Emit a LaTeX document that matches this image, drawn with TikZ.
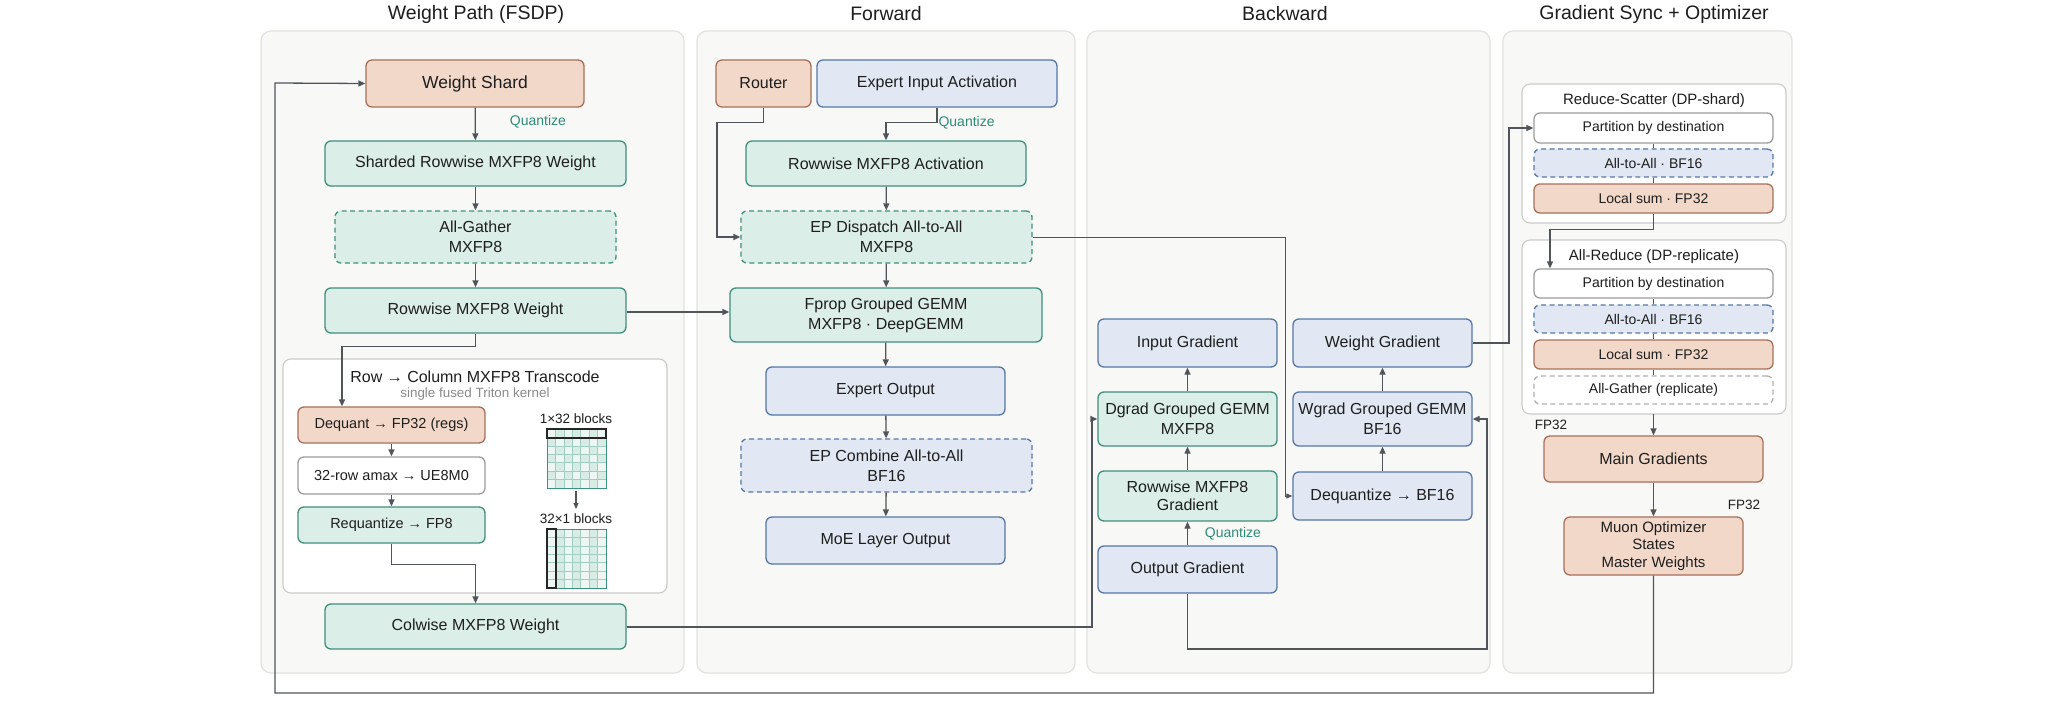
\documentclass[tikz,border=0pt]{standalone}
\usepackage{fontspec}
\setmainfont{Liberation Sans}
\usetikzlibrary{arrows.meta}
\definecolor{panelF}{HTML}{F8F8F6}
\definecolor{panelD}{HTML}{E2E2DE}
\definecolor{salF}{HTML}{F2D8C9}
\definecolor{salD}{HTML}{A6705A}
\definecolor{tealF}{HTML}{DBEEE8}
\definecolor{tealD}{HTML}{3F8F7D}
\definecolor{bluF}{HTML}{E1E8F3}
\definecolor{bluD}{HTML}{5677A8}
\definecolor{grayD}{HTML}{9C9C9C}
\definecolor{lineC}{HTML}{50555B}
\definecolor{quantC}{HTML}{2E8B78}
\definecolor{subC}{HTML}{8A8A8A}
\definecolor{gridA}{HTML}{D6ECE5}
\definecolor{gridB}{HTML}{EDF6F3}
\definecolor{gridL}{HTML}{9FCDC1}
\definecolor{txtC}{HTML}{1E1E1E}
\newcommand\mybox[7]{\node[#1, minimum width={#5pt-#3pt}, minimum height={#6pt-#4pt}] (#2) at ({(#3+#5)/2},{(#4+#6)/2}) {#7};}
\begin{document}
\begin{tikzpicture}[x=1pt,y=-1pt,
  every node/.style={text=txtC},
  panel/.style={fill=panelF, draw=panelD, line width=1.3pt, rounded corners=10pt},
  subpanel/.style={fill=white, draw=panelD!90!black, line width=1.1pt, rounded corners=8pt},
  box/.style={draw, rounded corners=6pt, line width=1.3pt, inner sep=0pt, align=center, font=\fontsize{16}{20}\selectfont},
  salbox/.style={box, fill=salF, draw=salD},
  tealbox/.style={box, fill=tealF, draw=tealD},
  blubox/.style={box, fill=bluF, draw=bluD},
  whitebox/.style={box, fill=white, draw=grayD},
  dashbox/.style={dash pattern=on 5pt off 3.5pt},
  small/.style={font=\fontsize{14.5}{17}\selectfont},
  tiny/.style={font=\fontsize{14}{17}\selectfont},
  title/.style={font=\fontsize{19.5}{23}\selectfont},
  conn/.style={draw=lineC, line width=1.3pt},
  arr/.style={conn, -{Triangle[length=7pt,width=6pt]}},
  qlabel/.style={font=\fontsize{14}{17}\selectfont, text=quantC},
  note/.style={font=\fontsize{13.5}{16}\selectfont}
]
\useasboundingbox (0,0) rectangle (2048,706);
\fill[white] (0,0) rectangle (2048,706);

% panels
\draw[panel] (261,31) rectangle (684,673);
\draw[panel] (697,31) rectangle (1075,673);
\draw[panel] (1087,31) rectangle (1490,673);
\draw[panel] (1503,31) rectangle (1792,673);
\node[title] (t1) at (476,14) {Weight Path (FSDP)};
\node[title] (t2) at (886,14) {Forward};
\node[title] (t3) at (1285,14) {Backward};
\node[title] (t4) at (1654,14) {Gradient Sync + Optimizer};

% ---------- Weight path ----------
\mybox{salbox, font=\fontsize{17.5}{21}\selectfont}{ws}{366}{60}{584}{107}{Weight Shard}
\mybox{tealbox}{srw}{325}{141}{626}{186}{Sharded Rowwise MXFP8 Weight}
\mybox{tealbox, dashbox}{ag}{335}{211}{616}{263}{All-Gather\\MXFP8}
\mybox{tealbox}{rw}{325}{288}{626}{333}{Rowwise MXFP8 Weight}
\draw[subpanel] (283,359) rectangle (667,593);
\node[font=\fontsize{16}{19}\selectfont] (tct) at (475,377) {Row → Column MXFP8 Transcode};
\node[font=\fontsize{13.4}{16}\selectfont, text=subC] (tcs) at (475,394) {single fused Triton kernel};
\mybox{salbox, small}{dq}{298}{407}{485}{443}{Dequant → FP32 (regs)}
\mybox{whitebox, small}{amax}{298}{457}{485}{494}{32-row amax → UE8M0}
\mybox{tealbox, small}{rq}{298}{507}{485}{543}{Requantize → FP8}
\mybox{tealbox}{cw}{325}{604}{626}{649}{Colwise MXFP8 Weight}

% grids
\node[note] (g1l) at (576,419) {1×32 blocks};
\node[note] (g2l) at (576,519) {32×1 blocks};
\foreach \i in {0,...,6} \foreach \j in {0,...,6} {
  \pgfmathsetmacro\cc{mod(\i+\j,2)==0 ? 1 : 0}
  \ifdim\cc pt>0.5pt \def\gc{gridB}\else\def\gc{gridA}\fi
  \fill[\gc] ({547+\i*59/7},{429+\j*59/7}) rectangle ++(59/7,59/7);
  \pgfmathsetmacro\cd{mod(\i,2)==0 ? 1 : 0}
  \ifdim\cd pt>0.5pt \def\gd{gridB}\else\def\gd{gridA}\fi
  \fill[\gd] ({547+\i*59/7},{529+\j*59/7}) rectangle ++(59/7,59/7);
}
\foreach \k in {1,...,6} {
  \draw[gridL, line width=0.5pt] ({547+\k*59/7},429) -- ++(0,59);
  \draw[gridL, line width=0.5pt] (547,{429+\k*59/7}) -- ++(59,0);
  \draw[gridL, line width=0.5pt] ({547+\k*59/7},529) -- ++(0,59);
  \draw[gridL, line width=0.5pt] (547,{529+\k*59/7}) -- ++(59,0);
}
\draw[tealD, line width=1pt] (547,429) rectangle (606,488);
\draw[tealD, line width=1pt] (547,529) rectangle (606,588);
\draw[black!85, line width=1.8pt] (547,429) rectangle (606,438);
\draw[black!85, line width=1.8pt] (547,529) rectangle (556,588);
\coordinate (ga) at (576,491);
\coordinate (gb) at (576,509);
\draw[conn, line width=1.1pt, -{Triangle[length=6pt,width=5pt]}] (ga) -- (gb);

% ---------- Forward ----------
\mybox{salbox}{router}{716}{60}{811}{107}{Router}
\mybox{blubox}{eia}{817}{60}{1057}{107}{Expert Input Activation}
\mybox{tealbox}{rwa}{746}{141}{1026}{186}{Rowwise MXFP8 Activation}
\mybox{tealbox, dashbox}{epd}{741}{211}{1032}{263}{EP Dispatch All-to-All\\MXFP8}
\mybox{tealbox}{fprop}{730}{288}{1042}{342}{Fprop Grouped GEMM\\MXFP8 · DeepGEMM}
\mybox{blubox}{eo}{766}{367}{1005}{415}{Expert Output}
\mybox{blubox, dashbox}{epc}{741}{439}{1032}{492}{EP Combine All-to-All\\BF16}
\mybox{blubox}{moe}{766}{517}{1005}{564}{MoE Layer Output}

% ---------- Backward ----------
\mybox{blubox}{ig}{1098}{319}{1277}{367}{Input Gradient}
\mybox{blubox}{wg}{1293}{319}{1472}{367}{Weight Gradient}
\mybox{tealbox}{dg}{1098}{392}{1277}{446}{Dgrad Grouped GEMM\\MXFP8}
\mybox{blubox}{wgg}{1293}{392}{1472}{446}{Wgrad Grouped GEMM\\BF16}
\mybox{tealbox, font=\fontsize{16}{18}\selectfont}{rg}{1098}{471}{1277}{521}{Rowwise MXFP8\\Gradient}
\mybox{blubox}{deq}{1293}{472}{1472}{520}{Dequantize → BF16}
\mybox{blubox}{og}{1098}{546}{1277}{593}{Output Gradient}

% ---------- Gradient sync ----------
\draw[subpanel] (1522,84) rectangle (1786,223);
\node[font=\fontsize{15}{18}\selectfont] (rst) at (1654,101) {Reduce-Scatter (DP-shard)};
\mybox{whitebox, tiny}{p1}{1534}{113}{1773}{143}{Partition by destination}
\mybox{blubox, tiny, dashbox}{a1}{1534}{149}{1773}{177}{All-to-All · BF16}
\mybox{salbox, tiny}{l1}{1534}{184}{1773}{213}{Local sum · FP32}
\draw[subpanel] (1522,240) rectangle (1786,414);
\node[font=\fontsize{15}{18}\selectfont] (art) at (1654,257) {All-Reduce (DP-replicate)};
\mybox{whitebox, tiny}{p2}{1534}{269}{1773}{298}{Partition by destination}
\mybox{blubox, tiny, dashbox}{a2}{1534}{305}{1773}{333}{All-to-All · BF16}
\mybox{salbox, tiny}{l2}{1534}{340}{1773}{369}{Local sum · FP32}
\mybox{whitebox, tiny, dashbox, draw=grayD!80}{agr}{1534}{376}{1773}{404}{All-Gather (replicate)}
\coordinate (arb) at (1653.5,414);
\mybox{salbox}{mg}{1544}{436}{1763}{482}{Main Gradients}
\mybox{salbox, font=\fontsize{15}{17.5}\selectfont}{muon}{1564}{517}{1743}{575}{Muon Optimizer\\States\\Master Weights}
\node[note] (fp1) at (1551,425) {FP32};
\node[note] (fp2) at (1744,505) {FP32};

% ---------- connectors ----------
% weight path
\draw[arr] (ws) -- (srw);
\node[qlabel] (q1) at (538,122) {Quantize};
\draw[arr] (srw) -- (ag);
\draw[arr] (ag) -- (rw);
\draw[arr] (rw.south) -- ++(0,13) -| (dq.north -| 342,0);
\draw[arr] (dq) -- (amax);
\draw[arr] (amax) -- (rq);
\draw[arr] (rq.south) -- ++(0,21) -| (cw.north);
\draw[arr] (rw.east |- 0,312) -- (fprop.west |- 0,312);

% forward
\draw[arr] (router.south) -- ++(0,15) -| (717,237) -- (epd.west);
\draw[arr] (eia.south) -- ++(0,15) -| (rwa.north);
\node[qlabel, anchor=west] (q2) at (935,123) {Quantize};
\draw[arr] (rwa) -- (epd);
\draw[arr] (epd) -- (fprop);
\draw[arr] (fprop) -- (eo);
\draw[arr] (eo) -- (epc);
\draw[arr] (epc) -- (moe);
\draw[conn, line width=1pt, -{Triangle[length=6pt,width=5pt]}] (epd.east) -| (1285,496) -- (deq.west);

% backward
\draw[arr] (og) -- (rg);
\node[qlabel] (q3) at (1233,534) {Quantize};
\draw[arr] (rg) -- (dg);
\draw[arr] (dg) -- (ig);
\draw[arr] (deq) -- (wgg);
\draw[arr] (wgg) -- (wg);
\draw[arr] (cw.east |- 0,627) -| (1092,419) -- (dg.west);
\draw[arr] (og.south) -- (1187.5,649) -| (1487,419) -- (wgg.east);

% sync
\draw[arr] (wg.east) -| (1509,128) -- (p1.west);
\draw[conn, line width=1pt] (p1) -- (a1);
\draw[conn, line width=1pt] (a1) -- (l1);
\draw[arr] (l1.south) -- ++(0,16) -| (p2.north -| 1550,0);
\draw[conn, line width=1pt] (p2) -- (a2);
\draw[conn, line width=1pt] (a2) -- (l2);
\draw[conn, line width=1pt] (l2) -- (agr);
\draw[arr] (arb) -- (mg.north);
\draw[arr] (mg) -- (muon);
\draw[arr] (muon.south) -- (1653.5,693) -| (275,83) -- (ws.west);
\end{tikzpicture}
\end{document}
